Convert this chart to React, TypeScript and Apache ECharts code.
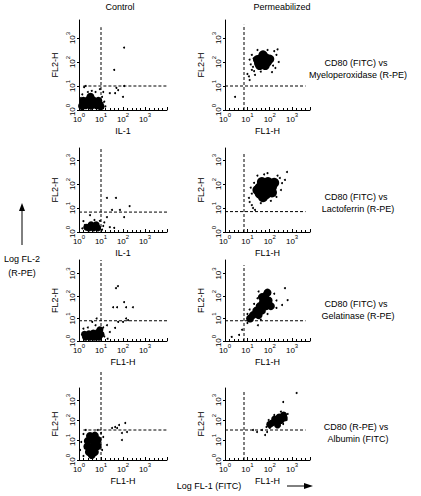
import React, { useEffect, useRef } from "react";
import * as echarts from "echarts";

// ---- data (log10 units, decades) ----
const columnTitles = ["Control", "Permeabilized"];
const rowLabels = [
  ["CD80 (FITC) vs", "Myeloperoxidase (R-PE)"],
  ["CD80 (FITC) vs", "Lactoferrin (R-PE)"],
  ["CD80 (FITC) vs", "Gelatinase (R-PE)"],
  ["CD80 (R-PE) vs", "Albumin (FITC)"],
];
const xAxisNames = ["IL-1", "FL1-H", "IL-1", "FL1-H", "FL1-H", "FL1-H", "FL1-H", "FL1-H"];
const tickLabels = ["0", "1", "2", "3"];

// quadrant gates per panel (row-major: ctrl, perm)
const gateX = [1.0, 0.85, 1.0, 0.85, 1.0, 0.85, 1.0, 0.85];
const gateY = [1.0, 1.0, 0.83, 0.85, 0.9, 0.9, 1.5, 1.5];

// dense populations (core) and single events
const ctrlMpoCore = [[0.3,0.2],[0.55,0.18],[0.8,0.2],[0.98,0.15],[0.4,0.4],[0.65,0.4],[0.88,0.38],[0.52,0.55],[0.2,0.38],[0.14,0.17]];
const ctrlMpoEvents = [[2.05,2.6],[1.6,1.67],[1.7,0.92],[1.78,0.83],[2.05,1.0],[1.64,0.7],[2.0,0.55],[1.4,0.7],[1.1,0.75],[0.3,1.0],[0.58,0.8],[0.95,0.87],[0.23,0.95],[1.15,0.35],[1.2,0.15],[0.75,0.75],[0.15,0.65],[1.05,0.55],[0.4,0.75],[0.08,0.5],[1.08,0.3]];

const permMpoCore = [[1.5,1.95],[1.7,1.95],[1.9,2.0],[1.6,2.15],[1.82,2.18],[1.45,2.1],[2.0,2.12],[1.7,2.3],[1.55,1.85],[1.8,1.85]];
const permMpoEvents = [[0.45,0.55],[2.35,2.53],[1.1,1.25],[1.07,1.4],[1.2,1.67],[1.34,1.46],[2.1,1.58],[1.25,1.8],[1.1,2.1],[1.2,2.3],[2.3,2.3],[2.4,2.0],[1.45,2.5],[1.9,2.5],[2.2,2.45],[1.15,1.9],[1.6,1.6],[2.25,1.75],[1.0,1.5],[1.3,1.62],[2.15,1.85],[1.28,2.15]];

const ctrlLfCore = [[0.45,0.17],[0.65,0.17],[0.85,0.17],[0.55,0.3],[0.78,0.3],[0.35,0.2]];
const ctrlLfEvents = [[1.27,1.42],[1.68,1.42],[2.3,1.08],[2.05,0.62],[1.86,0.92],[1.5,0.92],[1.27,0.62],[0.95,0.46],[1.4,0.2],[0.5,0.7],[0.27,0.3],[1.6,0.17],[0.15,0.15],[1.1,0.25],[1.05,0.1],[0.2,0.45],[0.7,0.5],[1.15,0.4]];

const permLfCore = [[1.55,1.6],[1.85,1.58],[2.1,1.65],[1.55,1.85],[1.82,1.85],[2.1,1.88],[1.65,2.08],[1.92,2.08],[1.7,1.45],[2.2,2.05],[1.45,1.75]];
const permLfEvents = [[2.77,2.5],[2.68,2.17],[1.1,1.25],[1.2,1.12],[1.25,1.0],[1.07,1.42],[2.55,2.04],[1.34,0.92],[2.3,1.46],[1.2,1.6],[1.3,2.05],[1.45,2.35],[1.9,2.45],[2.35,2.35],[2.5,1.75],[1.6,1.2],[2.05,1.3],[1.15,1.85],[2.45,2.25],[1.75,2.4]];

const ctrlGelCore = [[0.3,0.17],[0.5,0.17],[0.7,0.17],[0.9,0.17],[0.45,0.32],[0.65,0.35],[0.85,0.38],[1.0,0.3],[0.95,0.5],[0.25,0.3]];
const ctrlGelEvents = [[1.77,2.44],[1.68,2.35],[2.05,1.73],[2.14,1.5],[1.73,1.5],[1.55,1.5],[2.45,1.5],[2.23,0.93],[2.0,0.85],[2.14,1.0],[1.64,0.58],[1.4,0.4],[0.8,1.0],[0.6,0.85],[1.27,0.7],[1.78,0.85],[1.15,0.2],[0.2,0.55],[0.4,0.6],[1.1,0.6],[0.75,0.7],[1.3,0.1]];

const permGelCore = [[1.8,2.0],[1.95,1.8],[1.7,1.75],[1.55,1.55],[1.85,1.55],[1.4,1.35],[1.65,1.35],[1.25,1.15],[1.5,1.15],[1.12,1.0],[2.05,1.55],[1.65,1.95],[1.9,2.15]];
const permGelEvents = [[2.68,2.35],[0.76,0.5],[0.63,0.27],[0.3,0.18],[1.0,0.8],[1.47,0.7],[2.8,1.82],[2.55,1.6],[2.3,1.47],[1.0,1.2],[1.1,1.4],[1.3,1.65],[1.45,1.9],[2.2,2.1],[2.3,1.8],[1.6,0.95],[1.9,1.2],[1.5,2.2]];

const ctrlAlbCore = [[0.45,0.4],[0.72,0.4],[0.38,0.68],[0.62,0.68],[0.85,0.7],[0.4,0.95],[0.65,0.95],[0.85,1.0],[0.5,1.2],[0.72,1.22],[0.58,0.25]];
const ctrlAlbEvents = [[1.95,1.0],[2.1,1.85],[1.82,1.75],[1.64,1.65],[2.18,1.4],[1.95,1.35],[1.27,0.75],[1.1,1.15],[1.5,1.6],[1.73,1.6],[0.05,0.5],[0.1,0.9],[0.2,1.3],[0.3,1.5],[0.85,1.5],[1.05,0.5],[1.0,1.35],[0.2,0.2]];

const permAlbCore = [[2.1,1.85],[2.3,1.88],[2.5,1.98],[2.65,2.1],[2.22,2.05],[2.42,2.15],[2.62,2.25],[2.35,1.75],[2.0,1.78]];
const permAlbEvents = [[3.2,3.35],[2.6,2.9],[1.79,1.25],[1.43,1.4],[1.65,1.5],[2.0,1.6],[1.25,1.5],[1.88,1.4],[2.8,2.3],[2.75,2.0],[2.5,2.42],[2.2,2.25],[1.95,2.0],[2.6,1.8],[1.85,1.65]];

const cores = [ctrlMpoCore, permMpoCore, ctrlLfCore, permLfCore, ctrlGelCore, permGelCore, ctrlAlbCore, permAlbCore];
const events = [ctrlMpoEvents, permMpoEvents, ctrlLfEvents, permLfEvents, ctrlGelEvents, permGelEvents, ctrlAlbEvents, permAlbEvents];

// ---- layout ----
const FONT = "'Liberation Sans', Arial, Helvetica, sans-serif";
const rowsLayout = [
  { top: 20, height: 90, yMax: 3.75 },
  { top: 148, height: 84, yMax: 3.5 },
  { top: 260, height: 81, yMax: 3.6 },
  { top: 388, height: 72, yMax: 3.6 },
];
const colsLayout = [
  { left: 79, width: 88, xMax: 4.0 },
  { left: 225, width: 85, xMax: 3.8 },
];
// dashed gate line extents per panel
const vTops = [3.45, 3.55, 3.5, 3.33, 3.6, 3.37, 4.5, 3.4];
const hFroms = [0.2, 0, 0, 0, 0, 0, 0.2, 0];
const hTos = [4.0, 3.6, 4.0, 3.6, 4.0, 3.6, 4.0, 3.6];
const coreSizes = [8, 9, 7, 10, 7, 8, 8, 7];

export default function App() {
  const ref = useRef<HTMLDivElement>(null);
  useEffect(() => {
    if (!ref.current) return;
    const chart = echarts.init(ref.current, undefined, { renderer: "svg" });
    const grid: any[] = [];
    const xAxis: any[] = [];
    const yAxis: any[] = [];
    const series: any[] = [];
    const rich = {
      b: { fontSize: 8, fontFamily: FONT, color: "#000", lineHeight: 11, verticalAlign: "bottom" },
      s: { fontSize: 6, fontFamily: FONT, color: "#000", lineHeight: 6, verticalAlign: "top" },
    };
    const fmt = (v: number) => {
      const i = tickLabels.indexOf(String(v));
      return i >= 0 ? `{b|10}{s|${tickLabels[i]}}` : "";
    };
    for (let p = 0; p < 8; p++) {
      const r = rowsLayout[Math.floor(p / 2)];
      const c = colsLayout[p % 2];
      grid.push({ left: c.left, top: r.top, width: c.width, height: r.height, containLabel: false });
      const axisCommon = {
        type: "value",
        min: 0,
        interval: 1,
        axisLine: { show: true, lineStyle: { color: "#000", width: 1 } },
        axisTick: { show: true, inside: true, length: 3, lineStyle: { color: "#000" } },
        minorTick: { show: true, splitNumber: 5, length: 2, lineStyle: { color: "#000" } },
        splitLine: { show: false },
        nameTextStyle: { fontSize: 9, fontFamily: FONT, color: "#000" },
      };
      xAxis.push({
        ...axisCommon,
        gridIndex: p,
        max: c.xMax,
        name: xAxisNames[p],
        nameLocation: "middle",
        nameGap: 16,
        axisLabel: { formatter: fmt, rich, margin: 2, showMaxLabel: false },
      });
      yAxis.push({
        ...axisCommon,
        gridIndex: p,
        max: r.yMax,
        name: "FL2-H",
        nameLocation: "middle",
        nameGap: 20,
        nameRotate: 90,
        axisTick: { show: true, inside: false, length: 2, lineStyle: { color: "#000" } },
        minorTick: { show: false },
        axisLabel: { formatter: fmt, rich, margin: 3, rotate: 90, showMaxLabel: false },
      });
      const dash = { color: "#000", width: 1, type: [3, 2] };
      series.push({
        type: "line", xAxisIndex: p, yAxisIndex: p, symbol: "none", clip: false, silent: true,
        lineStyle: dash, data: [[gateX[p], 0], [gateX[p], vTops[p]]],
      });
      series.push({
        type: "line", xAxisIndex: p, yAxisIndex: p, symbol: "none", clip: false, silent: true,
        lineStyle: dash, data: [[hFroms[p], gateY[p]], [hTos[p], gateY[p]]],
      });
      series.push({
        type: "scatter", xAxisIndex: p, yAxisIndex: p, symbolSize: coreSizes[p], silent: true,
        itemStyle: { color: "#000", opacity: 1 }, data: cores[p],
      });
      series.push({
        type: "scatter", xAxisIndex: p, yAxisIndex: p, symbolSize: 2, silent: true,
        itemStyle: { color: "#000", opacity: 1 }, data: events[p],
      });
    }
    const txt = (text: string, x: number, y: number, size = 9) => ({
      type: "text", x, y, silent: true,
      style: { text, fill: "#000", fontSize: size, fontFamily: FONT, align: "center", verticalAlign: "middle" },
    });
    const graphic: any[] = [
      txt(columnTitles[0], 120, 7),
      txt(columnTitles[1], 282, 7),
    ];
    const labelY = [[63, 75], [197, 209], [304, 316], [427, 439]];
    rowLabels.forEach((lines, i) => {
      graphic.push(txt(lines[0], 356, labelY[i][0]));
      graphic.push(txt(lines[1], 358, labelY[i][1]));
    });
    graphic.push(txt("Log FL-2", 22, 259));
    graphic.push(txt("(R-PE)", 22, 273));
    graphic.push({ type: "line", shape: { x1: 22, y1: 245, x2: 22, y2: 210 }, style: { stroke: "#000", lineWidth: 1 } });
    graphic.push({ type: "polygon", shape: { points: [[22, 203], [19, 211], [25, 211]] }, style: { fill: "#000" } });
    graphic.push(txt("Log FL-1 (FITC)", 209, 486));
    graphic.push({ type: "line", shape: { x1: 287, y1: 486, x2: 305, y2: 486 }, style: { stroke: "#000", lineWidth: 1 } });
    graphic.push({ type: "polygon", shape: { points: [[313, 486], [304, 483], [304, 489]] }, style: { fill: "#000" } });

    chart.setOption({
      animation: false,
      backgroundColor: "#fff",
      textStyle: { fontFamily: FONT },
      grid, xAxis, yAxis, series, graphic,
    });
    return () => chart.dispose();
  }, []);
  return (
    <div
      ref={ref}
      style={{ position: "fixed", left: 0, top: 0, width: 421, height: 496, background: "#fff" }}
    />
  );
}
